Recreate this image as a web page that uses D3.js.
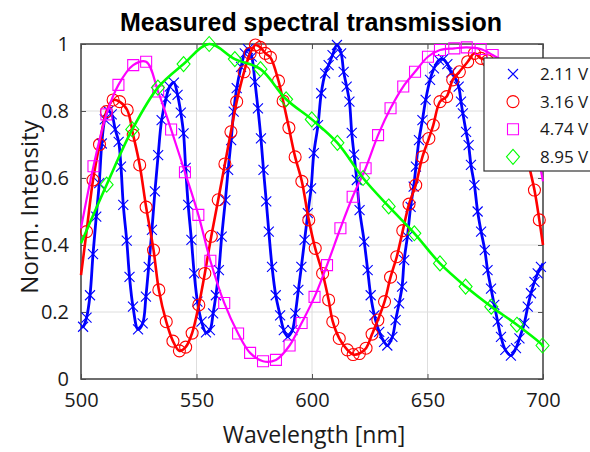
<!DOCTYPE html>
<html>
<head>
<meta charset="utf-8">
<script src="https://cdn.jsdelivr.net/npm/d3@7"></script>
<style>
  body { margin: 0; background: #fff; }
  svg { display: block; }
</style>
</head>
<body>
<svg id="chart" width="590" height="452"></svg>
<script>
// ---- data -------------------------------------------------------------
const xTicks = [500, 550, 600, 650, 700];
const yTicks = [0, 0.2, 0.4, 0.6, 0.8, 1];
const yTickLabels = ["0", "0.2", "0.4", "0.6", "0.8", "1"];
const seriesNames = ["2.11 V", "3.16 V", "4.74 V", "8.95 V"];

// 2.11 V
const wl211 = [500.9, 502.4, 503.9, 505.2, 506.6, 507.9, 509.0, 510.3, 511.8, 513.3, 514.8, 516.3, 517.3, 518.3, 519.8, 521.0, 522.5, 524.7, 526.7, 528.1, 529.3, 530.7, 532.0, 533.4, 534.9, 536.8, 538.4, 540.2, 541.8, 543.2, 544.4, 545.3, 546.4, 547.8, 549.0, 550.4, 552.2, 554.1, 555.8, 557.2, 558.4, 559.7, 560.9, 562.5, 563.7, 565.0, 566.1, 567.4, 569.3, 570.9, 572.3, 573.9, 575.3, 576.6, 577.9, 579.0, 580.2, 581.3, 582.7, 584.3, 586.2, 587.8, 589.5, 591.5, 592.8, 594.1, 595.4, 596.8, 598.2, 599.6, 600.8, 602.6, 604.0, 605.7, 607.2, 608.9, 610.8, 612.6, 613.7, 615.0, 616.2, 617.2, 618.2, 619.4, 620.6, 622.6, 624.1, 625.4, 627.0, 629.1, 631.2, 632.6, 634.8, 636.2, 637.7, 639.0, 639.9, 641.3, 642.7, 644.0, 645.0, 646.3, 647.8, 649.2, 651.1, 652.8, 655.0, 656.8, 658.6, 660.3, 661.8, 663.5, 664.5, 665.3, 666.7, 667.8, 668.8, 670.3, 671.7, 673.2, 674.8, 676.0, 677.5, 678.9, 680.4, 681.8, 683.7, 686.1, 688.3, 689.8, 691.9, 693.4, 694.8, 696.3, 697.7, 699.1];
const val211 = [0.156, 0.183, 0.25, 0.373, 0.485, 0.585, 0.703, 0.775, 0.8, 0.79, 0.745, 0.708, 0.634, 0.52, 0.413, 0.305, 0.216, 0.148, 0.166, 0.246, 0.335, 0.445, 0.56, 0.668, 0.773, 0.837, 0.873, 0.885, 0.848, 0.795, 0.733, 0.63, 0.52, 0.415, 0.315, 0.231, 0.171, 0.139, 0.146, 0.196, 0.25, 0.325, 0.425, 0.534, 0.624, 0.713, 0.798, 0.868, 0.932, 0.972, 0.985, 0.962, 0.887, 0.808, 0.718, 0.624, 0.53, 0.44, 0.335, 0.25, 0.19, 0.146, 0.126, 0.146, 0.196, 0.266, 0.335, 0.415, 0.495, 0.569, 0.674, 0.758, 0.853, 0.912, 0.937, 0.967, 0.997, 0.972, 0.917, 0.873, 0.828, 0.735, 0.67, 0.594, 0.504, 0.41, 0.325, 0.25, 0.19, 0.141, 0.111, 0.1, 0.126, 0.176, 0.226, 0.276, 0.355, 0.425, 0.514, 0.574, 0.634, 0.713, 0.773, 0.833, 0.893, 0.927, 0.952, 0.955, 0.94, 0.915, 0.9, 0.873, 0.828, 0.793, 0.738, 0.698, 0.639, 0.579, 0.5, 0.44, 0.385, 0.325, 0.27, 0.221, 0.171, 0.126, 0.087, 0.07, 0.092, 0.121, 0.166, 0.216, 0.256, 0.29, 0.315, 0.335];
const ends211 = [0.155, 0.345];   // fitted curve at 500 nm and 700 nm

// 3.16 V
const wl316 = [502.4, 505.2, 508.0, 511.0, 513.9, 516.7, 520.0, 522.6, 525.4, 528.2, 531.4, 533.7, 536.9, 539.8, 542.6, 545.3, 548.1, 551.0, 553.6, 556.4, 559.4, 562.3, 564.9, 567.4, 570.6, 573.2, 575.5, 577.6, 579.8, 582.0, 585.5, 587.5, 590.0, 592.7, 595.6, 598.6, 601.4, 604.6, 607.2, 609.0, 611.8, 615.3, 617.8, 620.5, 623.4, 626.0, 628.5, 631.4, 634.0, 636.7, 639.3, 642.0, 644.9, 647.8, 650.6, 652.5, 655.4, 658.3, 660.9, 663.8, 667.4, 670.3, 673.2, 676.0, 679.0, 682.0, 685.0, 688.0, 691.0, 693.5, 696.3, 698.4];
const val316 = [0.44, 0.594, 0.70, 0.798, 0.833, 0.828, 0.803, 0.728, 0.639, 0.513, 0.385, 0.266, 0.171, 0.113, 0.084, 0.095, 0.137, 0.221, 0.315, 0.426, 0.535, 0.642, 0.738, 0.828, 0.917, 0.972, 0.997, 0.99, 0.972, 0.96, 0.89, 0.83, 0.75, 0.663, 0.59, 0.475, 0.39, 0.315, 0.236, 0.171, 0.121, 0.087, 0.073, 0.076, 0.092, 0.134, 0.176, 0.231, 0.304, 0.365, 0.443, 0.522, 0.579, 0.663, 0.718, 0.758, 0.828, 0.843, 0.893, 0.917, 0.947, 0.972, 0.957, 0.95, 0.93, 0.9, 0.86, 0.8, 0.73, 0.65, 0.564, 0.475];
const ends316 = [0.31, 0.40];

// 4.74 V
const wl474 = [505.4, 511.0, 516.2, 522.6, 528.2, 533.4, 539.0, 545.0, 550.8, 556.0, 562.0, 568.0, 573.2, 578.8, 584.4, 590.3, 595.5, 601.1, 606.5, 612.3, 617.6, 623.2, 628.6, 634.0, 639.5, 644.6, 650.2, 655.4, 661.6, 667.0, 673.0, 678.2, 684.0, 689.5, 695.0];
const val474 = [0.635, 0.79, 0.878, 0.937, 0.947, 0.858, 0.745, 0.617, 0.49, 0.353, 0.227, 0.136, 0.078, 0.053, 0.057, 0.10, 0.167, 0.245, 0.34, 0.45, 0.544, 0.629, 0.728, 0.808, 0.873, 0.917, 0.962, 0.982, 0.987, 0.99, 0.985, 0.967, 0.94, 0.87, 0.75];
const ends474 = [0.45, 0.59];

// 8.95 V
const wl895 = [511.1, 522.2, 533.3, 544.4, 555.5, 566.6, 577.7, 588.8, 599.9, 611.0, 622.1, 633.2, 644.3, 655.4, 666.5, 677.6, 688.7, 699.8];
const val895 = [0.58, 0.745, 0.87, 0.94, 1.0, 0.955, 0.925, 0.835, 0.775, 0.705, 0.6, 0.515, 0.435, 0.345, 0.276, 0.216, 0.162, 0.1];
const ends895 = [0.405, 0.095];

// ---- layout -----------------------------------------------------------
const svg = d3.select("#chart");
const plot = { left: 81, right: 543, top: 44, bottom: 379 };

const x = d3.scaleLinear().domain([500, 700]).range([plot.left, plot.right]);
const y = d3.scaleLinear().domain([0, 1]).range([plot.bottom, plot.top]);

const tickFont = "'Open Sans', 'Noto Sans', sans-serif";

// grid
const grid = svg.append("g").attr("stroke", "#dedede").attr("stroke-width", 1);
grid.selectAll("line.gx").data(xTicks.slice(1, -1)).join("line")
  .attr("x1", d => x(d)).attr("x2", d => x(d))
  .attr("y1", plot.top).attr("y2", plot.bottom);
grid.selectAll("line.gy").data(yTicks.slice(1, -1)).join("line")
  .attr("x1", plot.left).attr("x2", plot.right)
  .attr("y1", d => y(d)).attr("y2", d => y(d));

// axes (ticks inward, on all four sides)
const axBottom = d3.axisBottom(x).tickValues(xTicks).tickSize(-5).tickPadding(14).tickFormat(d3.format("d"));
const axTop = d3.axisTop(x).tickValues(xTicks).tickSize(-5).tickFormat("");
const axLeft = d3.axisLeft(y).tickValues(yTicks).tickSize(-5).tickPadding(12)
  .tickFormat((d, i) => yTickLabels[i]);
const axRight = d3.axisRight(y).tickValues(yTicks).tickSize(-5).tickFormat("");

function styleAxis(g) {
  g.select(".domain").remove();
  g.selectAll(".tick line").attr("stroke", "#555").attr("stroke-width", 1);
  g.selectAll(".tick text").attr("fill", "#1a1a1a")
    .style("font-family", tickFont).style("font-size", "20px");
}
svg.append("g").attr("transform", `translate(0,${plot.bottom})`).call(axBottom).call(styleAxis);
svg.append("g").attr("transform", `translate(0,${plot.top})`).call(axTop).call(styleAxis);
svg.append("g").attr("transform", `translate(${plot.left},0)`).call(axLeft).call(styleAxis);
svg.append("g").attr("transform", `translate(${plot.right},0)`).call(axRight).call(styleAxis);

// plot box
svg.append("rect")
  .attr("x", plot.left).attr("y", plot.top)
  .attr("width", plot.right - plot.left).attr("height", plot.bottom - plot.top)
  .attr("fill", "none").attr("stroke", "#4a4a4a").attr("stroke-width", 1.6);

// ---- series -----------------------------------------------------------
const markerPaths = {
  x: "M-5,-5L5,5M-5,5L5,-5",
  circle: "M6,0A6,6 0 1,1 -6,0A6,6 0 1,1 6,0Z",
  square: "M-5.5,-5.5H5.5V5.5H-5.5Z",
  diamond: "M0,-7.5L6.5,0L0,7.5L-6.5,0Z"
};

const series = [
  { name: seriesNames[0], wl: wl211, val: val211, ends: ends211, color: "#0000ff", marker: "x", lw: 2.8 },
  { name: seriesNames[1], wl: wl316, val: val316, ends: ends316, color: "#ff0000", marker: "circle", lw: 2.6 },
  { name: seriesNames[2], wl: wl474, val: val474, ends: ends474, color: "#ff00ff", marker: "square", lw: 2.2 },
  { name: seriesNames[3], wl: wl895, val: val895, ends: ends895, color: "#00ff00", marker: "diamond", lw: 2.6 }
];

const line = d3.line()
  .x(d => x(d[0])).y(d => y(d[1]))
  .curve(d3.curveCatmullRom.alpha(0.5));

series.forEach(s => {
  const pts = s.wl.map((w, i) => [w, s.val[i]]);
  const curve = [[500, s.ends[0]], ...pts, [700, s.ends[1]]];
  const g = svg.append("g");
  g.append("path").datum(curve)
    .attr("d", line).attr("fill", "none")
    .attr("stroke", s.color).attr("stroke-width", s.lw)
    .attr("stroke-linejoin", "round");
  g.selectAll("path.m").data(pts).join("path")
    .attr("class", "m")
    .attr("transform", d => `translate(${x(d[0])},${y(d[1])})`)
    .attr("d", markerPaths[s.marker])
    .attr("fill", "none").attr("stroke", s.color).attr("stroke-width", 1.1);
});

// ---- legend -----------------------------------------------------------
const legend = svg.append("g").attr("transform", "translate(484,58)");
legend.append("rect")
  .attr("width", 130).attr("height", 113)
  .attr("fill", "#fff").attr("stroke", "#333").attr("stroke-width", 1.2);
series.forEach((s, i) => {
  const row = legend.append("g").attr("transform", `translate(0,${16 + i * 27.6})`);
  row.append("path").attr("transform", "translate(29,0)")
    .attr("d", markerPaths[s.marker]).attr("fill", "none")
    .attr("stroke", s.color).attr("stroke-width", 1.1);
  row.append("text").attr("x", 56).attr("dy", "0.35em")
    .style("font-family", tickFont).style("font-size", "17px").attr("fill", "#1a1a1a")
    .text(s.name);
});

// ---- titles -----------------------------------------------------------
svg.append("text")
  .attr("x", 311).attr("y", 31).attr("text-anchor", "middle")
  .style("font-family", "'Liberation Sans', Arial, sans-serif")
  .style("font-weight", "bold").style("font-size", "25px").attr("fill", "#000")
  .text("Measured spectral transmission");

svg.append("text")
  .attr("x", 314).attr("y", 443).attr("text-anchor", "middle")
  .style("font-family", tickFont).style("font-size", "23px").attr("fill", "#1a1a1a")
  .text("Wavelength [nm]");

svg.append("text")
  .attr("transform", "translate(38,207) rotate(-90)").attr("text-anchor", "middle")
  .style("font-family", tickFont).style("font-size", "24px").attr("fill", "#1a1a1a")
  .text("Norm. Intensity");
</script>
</body>
</html>
